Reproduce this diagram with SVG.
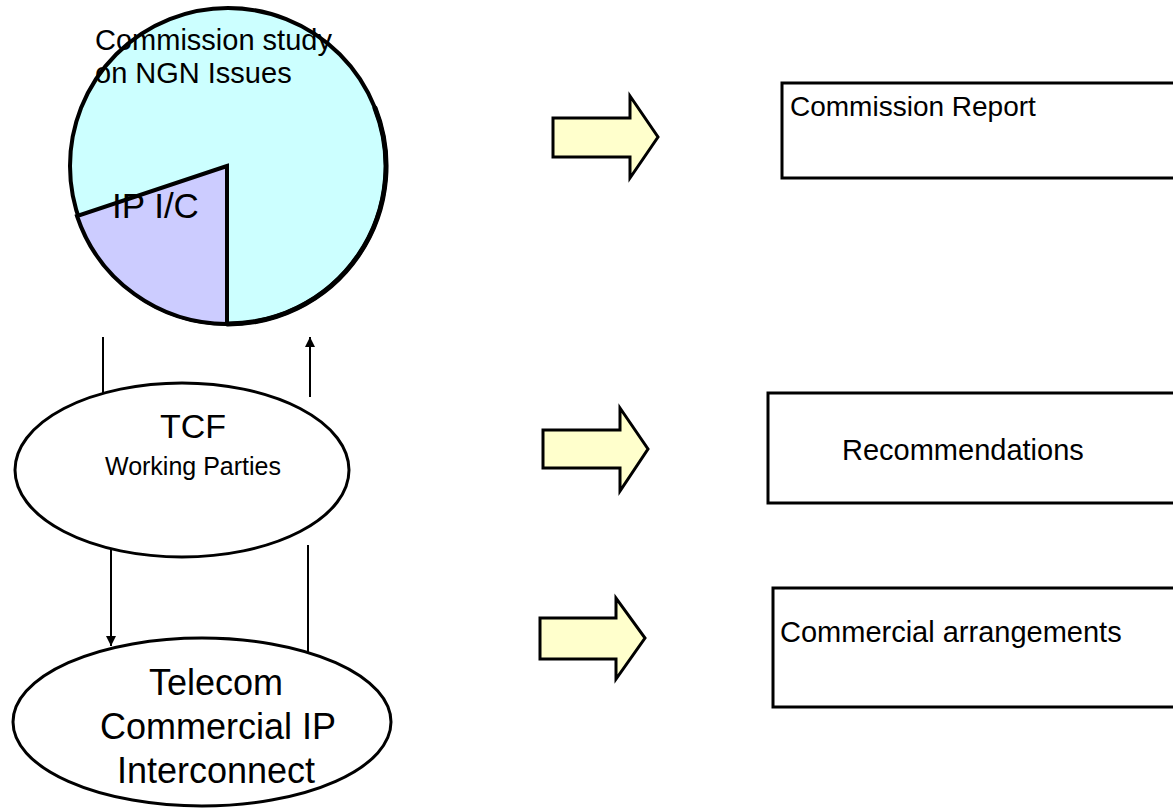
<svg xmlns="http://www.w3.org/2000/svg" width="1173" height="810" viewBox="0 0 1173 810">
<defs>
<style>
text{font-family:"Liberation Sans",Arial,sans-serif;fill:#000}
.conn{stroke:#000;stroke-width:2;fill:none}
.blk{fill:#FFFFCC;stroke:#000;stroke-width:3;stroke-linejoin:miter}
.box{fill:#fff;stroke:#000;stroke-width:3}
.ell{fill:#fff;stroke:#000;stroke-width:3}
</style>
<marker id="ah" viewBox="0 0 10 10" refX="10" refY="5" markerWidth="6" markerHeight="5" orient="auto" markerUnits="strokeWidth">
<path d="M0,0 L10,5 L0,10 Z" fill="#000"/>
</marker>
</defs>
<rect width="1173" height="810" fill="#fff"/>
<g id="pie">
<circle cx="228" cy="166" r="158" fill="#CCFFFF" stroke="#000" stroke-width="4"/>
<path d="M227,166 L77,216 A158,158 0 0,0 227,324 Z" fill="#CCCCFF" stroke="#000" stroke-width="4" stroke-linejoin="miter"/>
<path d="M375,108 A158,158 0 0,1 227,324" fill="none" stroke="#000" stroke-width="5" stroke-linecap="round"/>
<text x="95" y="50" font-size="29">Commission study</text>
<text x="95" y="83" font-size="29">on NGN Issues</text>
<text x="112" y="218" font-size="35">IP I/C</text>
</g>
<g id="connectors">
<line class="conn" x1="103" y1="337" x2="103" y2="396"/>
<line class="conn" x1="310" y1="397" x2="310" y2="337" marker-end="url(#ah)"/>
<line class="conn" x1="111" y1="545" x2="111" y2="646" marker-end="url(#ah)"/>
<line class="conn" x1="308" y1="545" x2="308" y2="652"/>
</g>
<g id="tcf">
<ellipse class="ell" cx="182" cy="470" rx="167" ry="87"/>
<text x="193" y="438" font-size="34" text-anchor="middle">TCF</text>
<text x="193" y="475" font-size="25" text-anchor="middle">Working Parties</text>
</g>
<g id="telecom">
<ellipse class="ell" cx="202" cy="722" rx="189" ry="84"/>
<text x="216" y="695" font-size="36" text-anchor="middle">Telecom</text>
<text x="218" y="739" font-size="36" text-anchor="middle">Commercial IP</text>
<text x="216" y="783" font-size="36" text-anchor="middle">Interconnect</text>
</g>
<g id="arrow1">
<path class="blk" d="M553,118 L630,118 L630,96 L658,137 L630,178 L630,157 L553,157 Z"/>
</g>
<g id="arrow2">
<path class="blk" d="M543,430 L620,430 L620,408 L648,449 L620,491 L620,468 L543,468 Z"/>
</g>
<g id="arrow3">
<path class="blk" d="M540,618 L616,618 L616,598 L645,638 L616,679 L616,659 L540,659 Z"/>
</g>
<g id="report">
<rect class="box" x="782" y="83" width="400" height="95"/>
<text x="790" y="116" font-size="28">Commission Report</text>
</g>
<g id="recommendations">
<rect class="box" x="768" y="393" width="414" height="110"/>
<text x="842" y="460" font-size="29">Recommendations</text>
</g>
<g id="commercial">
<rect class="box" x="773" y="588" width="409" height="119"/>
<text x="780" y="642" font-size="29">Commercial arrangements</text>
</g>
</svg>
